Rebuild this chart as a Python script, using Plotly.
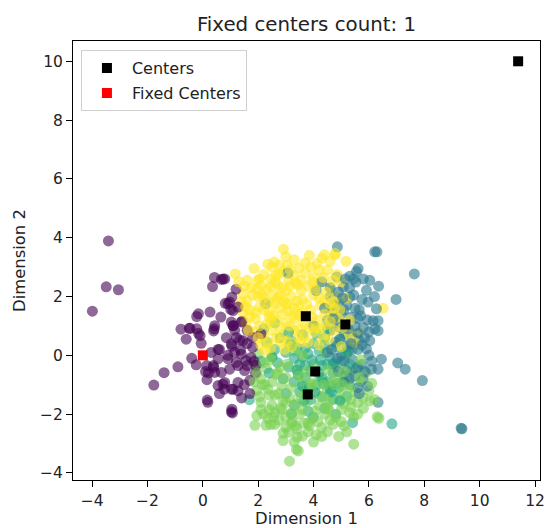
import plotly.graph_objects as go

# Cluster members: x / y coordinates per cluster label
c0_x = [-3.41, -3.49, -3.05, -3.99, -1.77, -1.40, -0.90, -0.79, -0.60, -0.49, -0.22, -0.22, -0.16, 0.26,
        -0.10, -0.06, -0.24, 0.14, 0.15, 0.16, 0.41, 0.42, 0.67, 0.35, 0.73, 0.81, 1.05, 1.01, 1.10, 1.42,
        1.33, 1.05, 1.36, 1.74, 1.60, 1.27, 0.91, 0.55, 0.39, 0.67, 0.77, 1.03, 1.27, 1.03, 1.92, 0.55,
        -0.46, -0.16, 0.43, 0.39, 0.91, 1.09, 1.03, 0.38, 0.43, 0.73, 1.05, 1.07, 1.15, 1.39, 1.56, 1.21,
        1.51, 0.97, 0.79, 1.09, 1.27, 1.80, 0.79, 0.97, 1.27, 1.09, 1.03, 1.39, 1.21, 1.45, 1.80, 2.10,
        1.90, 1.70, 1.50, 0.18, 0.60, 0.20, 1.60,
        0.55, 0.85, 0.30, 0.65, 1.20, 1.15, 0.90, 1.60, 1.85, 0.10, -0.40, 0.60, 1.40, 1.70]
c0_y = [3.89, 2.33, 2.23, 1.50, -1.01, -0.59, -0.39, 0.89, 0.55, 0.92, 0.90, 1.32, 1.41, 1.47,
        0.67, 0.41, -0.32, -0.35, -0.83, -1.52, 0.90, 2.65, 2.58, 2.34, 2.60, 1.77, 1.98, 1.56, 1.01, 1.16,
        0.52, 0.31, 0.18, -0.07, -0.35, -0.35, -0.12, -0.12, -0.41, -0.58, -1.15, -1.15, -0.92, -1.92, -0.35, -1.03,
        0.92, 0.75, 1.01, 0.83, 1.75, 1.01, 0.39, -0.35, -0.58, -0.98, -1.83, -1.96, 0.10, 0.04, -0.18, -0.24,
        -0.52, -0.47, -0.92, -1.15, -1.21, 0.27, 2.60, 1.81, 1.64, 1.52, 1.13, 1.13, 0.61, 0.50, 0.61, 0.73,
        -0.60, -0.85, -1.00, -1.60, 0.20, -0.60, 0.85,
        0.20, 0.60, 0.10, 1.30, 2.25, 0.85, 0.00, 0.40, -0.20, -0.55, -0.10, -1.30, -1.45, -1.30]

c2_x = [6.29, 7.64, 6.98, 6.33, 6.33, 6.45, 7.04, 7.31, 7.93, 6.33, 6.33, 9.33, 4.86, 6.21, 5.31, 5.53,
        5.61, 6.03, 5.91, 5.97, 6.27, 6.15, 6.21, 5.31, 5.08, 4.84, 5.65, 6.03, 6.09, 5.79, 5.91, 3.07,
        2.27, 4.60, 4.90, 5.20, 5.50, 4.70, 5.00, 5.35, 5.70, 4.50, 4.85, 5.50, 5.80, 4.60, 5.10, 5.40,
        4.80, 5.20, 5.60, 4.50, 5.00, 5.40, 5.75, 4.70, 5.20, 5.50, 4.90, 5.30, 5.75, 4.40, 5.85, 6.00,
        5.60, 5.10, 4.30, 4.10, 4.00, 6.20, 5.80, 5.55, 4.95, 5.25, 5.65, 6.35,
        5.05, 5.45, 4.75, 5.10, 5.60, 4.70, 5.25, 5.60, 4.95, 5.35, 5.75, 4.65, 5.10, 5.55, 5.85, 5.30,
        4.90, 5.95, 5.45, 5.15, 4.60, 5.95, 5.65, 6.10, 6.00, 4.85, 9.36]
c2_y = [3.52, 2.77, 1.90, 1.18, 0.84, -0.13, -0.26, -0.47, -0.86, -0.47, -1.60, -2.48, 3.69, 3.52, 2.69, 2.49,
        2.95, 2.55, 2.21, 1.81, 1.58, 1.18, 0.90, 1.98, 2.32, 2.66, 0.50, 0.50, -0.47, -0.81, 0.22, 2.80,
        1.75, 2.00, 1.80, 1.70, 1.60, 1.50, 1.40, 1.30, 1.35, 1.20, 1.10, 1.00, 0.95, 0.85, 0.75, 0.60,
        0.45, 0.30, 0.20, 0.10, 0.00, -0.15, -0.30, -0.30, -0.50, -0.70, 2.15, 2.30, 1.90, 1.60, 0.60, 0.00,
        -1.10, -0.90, 2.50, 2.20, 1.00, 2.00, 2.60, 2.85, 0.95, 0.15, 1.55, 2.35,
        1.95, 2.05, 1.70, 1.55, 1.25, 1.25, 0.90, 0.75, 0.55, 0.40, 0.35, 0.20, -0.20, -0.45, -0.55, -0.80,
        -0.55, 1.20, 2.60, 2.60, 2.30, -1.05, -1.30, -0.20, 0.80, -0.10, -2.50]

c3_x = [1.68, 6.83, 5.41, 2.80, 3.20, 3.60, 4.00, 4.40, 4.80, 2.60, 3.00, 3.40, 3.80, 4.20, 4.60, 5.00,
        2.70, 3.10, 3.50, 3.90, 4.30, 4.70, 5.10, 2.90, 3.30, 3.70, 4.10, 4.50, 4.90, 5.30, 3.00, 3.50,
        3.90, 4.30, 4.70, 5.20, 3.30, 3.80, 4.40, 4.00, 2.40, 2.10, 2.30, 5.60, 5.40, 3.60, 4.50, 4.10,
        3.20, 4.80, 2.20, 2.60, 3.45, 4.25, 3.85, 4.65, 3.15, 5.00, 4.35, 3.70,
        3.40, 3.70, 4.20, 4.50, 3.60, 4.30, 4.75, 3.95, 3.30, 4.85, 4.05, 3.65, 4.60, 5.30, 5.15, 4.40,
        3.10, 2.50, 4.95]
c3_y = [-1.51, -2.33, -2.29, 0.60, 0.50, 0.70, 0.40, 0.60, 0.30, 0.20, 0.10, 0.25, 0.05, 0.15, -0.05, -0.20,
        -0.25, -0.40, -0.30, -0.50, -0.35, -0.60, -0.70, -0.80, -0.90, -0.75, -1.00, -0.90, -1.10, -1.00, -1.30, -1.25,
        -1.50, -1.40, -1.50, -1.40, -1.70, -1.90, -1.80, -2.10, -0.60, -0.20, 0.45, -0.40, 0.20, -0.05, 0.90, 0.75,
        -2.00, -2.00, 0.90, 1.10, -0.65, -0.15, -1.10, -1.25, 0.35, 0.55, -0.95, 0.25,
        -0.50, -0.35, -0.60, -0.30, -1.05, -0.75, -0.25, -0.15, -0.10, -0.95, -1.25, -1.55, -1.20, -0.30, 0.10, 0.35,
        0.80, -0.05, -1.55]

c4_x = [3.13, 3.38, 3.45, 1.88, 2.28, 2.45, 5.45, 6.36, 6.03, 3.10, 4.29, 4.91, 6.30, 3.41,
        2.00, 2.50, 3.30, 4.40, 5.20, 1.90, 2.30, 2.80, 3.40, 4.00, 4.80, 5.40, 5.90,
        2.10, 2.50, 3.00, 3.60, 4.20, 4.60, 5.20, 5.70, 1.95, 2.35, 2.75, 3.20, 3.70, 4.10, 4.50,
        5.00, 5.50, 6.00, 2.10, 2.50, 2.90, 3.35, 3.75, 4.20, 4.60, 5.10, 5.60, 2.20, 2.60, 3.00,
        3.50, 3.95, 4.40, 4.80, 5.30, 2.60, 3.00, 3.40, 3.85, 4.30, 4.70, 5.10, 3.60, 4.10,
        2.40, 2.85, 3.25, 3.55, 4.55, 4.95, 5.35, 2.15, 2.70, 3.80, 4.75, 5.45, 2.55, 3.95,
        1.95, 2.25, 2.60, 2.85, 3.15, 3.45, 3.90, 4.35, 4.80, 5.05, 5.35, 5.80, 2.40, 2.80, 3.20, 3.60,
        4.05, 4.50, 5.00, 5.60, 2.35, 2.75, 3.20, 3.65, 4.15, 4.60, 5.00, 2.90, 3.35, 3.80, 4.50, 5.20,
        2.05, 1.85, 2.20, 2.65, 3.05, 3.75, 4.50, 5.10, 5.65, 6.10, 2.45, 3.60, 5.70, 3.00, 4.40, 5.30,
        2.90, 4.00, 3.30, 2.10, 1.95, 6.20, 5.80]
c4_y = [-3.60, -3.20, -3.25, -2.38, -2.38, -2.35, -3.02, -2.14, -1.55, -2.62, -2.76, -2.76, -2.09, -2.78,
        0.05, -0.05, 0.15, 0.10, 0.05, -0.35, -0.45, -0.40, -0.50, -0.30, -0.40, -0.50, -0.60,
        -0.80, -0.90, -0.75, -0.95, -0.75, -0.95, -0.85, -0.90, -1.20, -1.15, -1.30, -1.10, -1.20, -1.30, -1.15,
        -1.30, -1.25, -1.20, -1.60, -1.70, -1.55, -1.65, -1.60, -1.70, -1.55, -1.65, -1.60, -2.00, -1.95, -2.10,
        -2.00, -2.15, -2.00, -2.10, -1.95, -2.35, -2.45, -2.50, -2.40, -2.45, -2.35, -2.40, -2.75, -2.70,
        -1.35, -1.85, -2.25, -1.40, -1.85, -1.50, -1.75, -1.00, -0.60, -2.30, -1.00, -2.10, -2.10, -1.00,
        -0.60, -1.00, -1.35, -1.05, -1.45, -0.70, -0.95, -1.00, -0.75, -1.00, -1.50, -1.45, -1.85, -1.80, -1.95, -1.85,
        -1.90, -1.80, -1.85, -2.00, -2.15, -2.20, -2.30, -2.30, -2.25, -2.20, -2.25, -2.65, -2.40, -2.60, -2.60, -2.60,
        -1.40, -0.90, -0.25, -0.65, -0.30, -0.55, -0.50, -0.55, -0.75, -0.95, -0.15, 0.00, -0.15, -1.60, -1.45, -1.10,
        -2.90, -2.95, -2.95, -1.85, -2.05, -1.50, -1.80]

c5_x = [2.91, 1.17, 2.58, 2.76, 3.05, 3.47, 4.13, 4.39, 4.78, 5.17, 6.51, 5.62, 1.98, 1.45, 1.39, 2.10,
        2.64, 4.78, 2.20, 2.45, 2.90, 3.30, 3.70, 4.00, 4.50, 4.85, 3.55, 1.75, 2.30, 2.70, 3.00, 3.35,
        3.80, 4.20, 4.60, 5.00, 2.00, 1.60, 2.20, 2.55, 2.90, 3.20, 3.60, 4.00, 4.40, 4.80, 5.20, 1.70,
        2.05, 2.40, 2.75, 3.10, 3.45, 3.90, 4.25, 4.60, 1.45, 1.55, 1.90, 2.30, 2.65, 3.00, 3.35, 3.70,
        4.10, 4.45, 4.90, 1.85, 2.20, 2.50, 2.90, 3.30, 3.65, 4.00, 4.35, 4.75, 5.30, 2.10, 2.45, 2.80,
        3.20, 3.55, 4.20, 5.45, 5.00, 2.50, 3.15, 3.90, 4.30, 1.60, 4.72, 3.00, 2.40, 3.50, 4.10, 2.80,
        1.85, 2.35, 3.30, 3.70, 4.60, 2.05, 2.60, 3.10, 3.95, 4.35, 4.70, 1.50, 1.95, 2.45, 2.85, 3.15,
        3.55, 4.05, 4.45, 1.80, 2.40, 2.70, 3.05, 3.40, 3.75, 4.20, 4.60, 1.55, 1.90, 2.20, 2.55, 2.90,
        3.25, 3.60, 3.95, 4.40, 4.75, 1.70, 2.05, 2.45, 2.80, 3.15, 3.50, 3.85, 4.25, 4.60, 2.00, 2.35,
        2.65, 3.05, 3.45, 3.80, 4.55, 2.25, 2.95, 1.65, 5.05, 4.95, 5.30, 1.30, 3.00, 3.85, 4.20, 2.75,
        3.45, 2.15, 3.30, 2.60]
c5_y = [3.61, 2.77, 3.17, 3.06, 3.06, 2.97, 3.12, 3.42, 3.42, 3.20, 1.60, 0.78, 2.55, 2.09, 1.81, 2.38,
        2.72, 3.46, 2.75, 2.60, 2.85, 2.70, 2.80, 2.65, 2.90, 2.75, 2.55, 2.30, 2.25, 2.40, 2.20, 2.45,
        2.35, 2.45, 2.30, 2.50, 2.00, 1.85, 1.95, 2.05, 1.85, 2.00, 1.90, 2.05, 1.85, 2.00, 1.95, 1.55,
        1.65, 1.45, 1.60, 1.50, 1.65, 1.55, 1.70, 1.50, 1.45, 1.10, 1.25, 1.05, 1.20, 1.10, 1.25, 1.05,
        1.20, 1.05, 1.25, 0.80, 0.65, 0.85, 0.70, 0.85, 0.65, 0.80, 0.60, 0.85, 0.70, 0.35, 0.25, 0.45,
        0.30, 0.45, 0.35, 0.45, 0.30, 3.00, 2.90, 3.00, 3.30, 2.55, 1.81, 1.75, 1.30, 1.35, 0.95, 2.05,
        2.95, 3.10, 3.25, 3.15, 3.20, 2.60, 2.50, 2.55, 2.50, 2.65, 2.55, 2.35, 2.25, 2.35, 2.30, 2.35,
        2.20, 2.25, 2.15, 2.05, 1.80, 1.95, 1.75, 1.85, 1.75, 1.95, 1.75, 1.65, 1.45, 1.55, 1.35, 1.40,
        1.35, 1.45, 1.30, 1.40, 1.60, 1.30, 1.00, 1.15, 0.95, 1.00, 0.90, 0.95, 0.90, 1.15, 0.60, 0.45,
        0.60, 0.50, 0.60, 0.45, 0.55, 0.15, 0.20, 0.85, 0.95, 1.55, 1.20, 2.50, 3.35, 3.40, 2.90, 2.75,
        2.40, 2.05, 1.60, 1.75]

# Cluster centres (the red one is held fixed)
centers_x = [11.39, 3.72, 5.15, 4.06, 3.79]
centers_y = [10.0, 1.33, 1.05, -0.55, -1.33]
fixed_x = [0.0]
fixed_y = [0.0]

# viridis colours for labels 0..5 (label 1 has no members here)
label_colors = {0: "#440154", 2: "#2a788e", 3: "#22a884", 4: "#7ad151", 5: "#fde725"}
groups = [(0, c0_x, c0_y), (2, c2_x, c2_y), (3, c3_x, c3_y), (4, c4_x, c4_y), (5, c5_x, c5_y)]

# interleave clusters so overlapping points blend like a single scatter call
pts_x, pts_y, pts_c = [], [], []
longest = max(len(g[1]) for g in groups)
for i in range(longest):
    for lab, gx, gy in groups:
        if i < len(gx):
            pts_x.append(gx[i])
            pts_y.append(gy[i])
            pts_c.append(label_colors[lab])

x_ticks = [-4, -2, 0, 2, 4, 6, 8, 10, 12]
y_ticks = [-4, -2, 0, 2, 4, 6, 8, 10]


def tick_label(v):
    return ("\u2212" + str(abs(v))) if v < 0 else str(v)


fig = go.Figure()
fig.add_trace(go.Scatter(
    x=pts_x, y=pts_y, mode="markers", showlegend=False, hoverinfo="skip",
    marker=dict(size=11, color=pts_c, opacity=0.6, line=dict(width=0)),
))
fig.add_trace(go.Scatter(
    x=centers_x, y=centers_y, mode="markers", name="Centers", legendgroup="c",
    marker=dict(symbol="square", size=10, color="black"),
))
fig.add_trace(go.Scatter(
    x=fixed_x, y=fixed_y, mode="markers", name="Fixed Centers", legendgroup="f",
    marker=dict(symbol="square", size=10, color="red"),
))

axis_common = dict(
    showgrid=False, zeroline=False, showline=True, mirror=True,
    linecolor="black", linewidth=1, ticks="outside", ticklen=6,
    tickcolor="black", tickfont=dict(size=15.5, color="#222"),
)

fig.update_layout(
    width=547, height=528,
    margin=dict(l=73, r=2, t=41, b=48),
    paper_bgcolor="white", plot_bgcolor="white",
    font=dict(family="DejaVu Sans", color="#222"),
    title=dict(text="Fixed centers count: 1", x=0.5, xanchor="center",
               xref="paper", y=1, yref="paper", yanchor="bottom",
               pad=dict(b=10), font=dict(size=19.8)),
    xaxis=dict(range=[-4.69, 12.18], tickvals=x_ticks,
               ticktext=[tick_label(v) for v in x_ticks],
               ticklabeloverflow="allow",
               title=dict(text="Dimension 1", font=dict(size=16.4), standoff=5),
               **axis_common),
    yaxis=dict(range=[-4.24, 10.69], tickvals=y_ticks,
               ticktext=[tick_label(v) for v in y_ticks],
               title=dict(text="Dimension 2", font=dict(size=16.4), standoff=10),
               **axis_common),
    legend=dict(x=0.017, y=0.979, xanchor="left", yanchor="top",
                bgcolor="rgba(255,255,255,0.8)", bordercolor="#d0d0d0",
                borderwidth=1, font=dict(size=16), itemwidth=40,
                tracegroupgap=1),
)

fig.write_html("out.html")
